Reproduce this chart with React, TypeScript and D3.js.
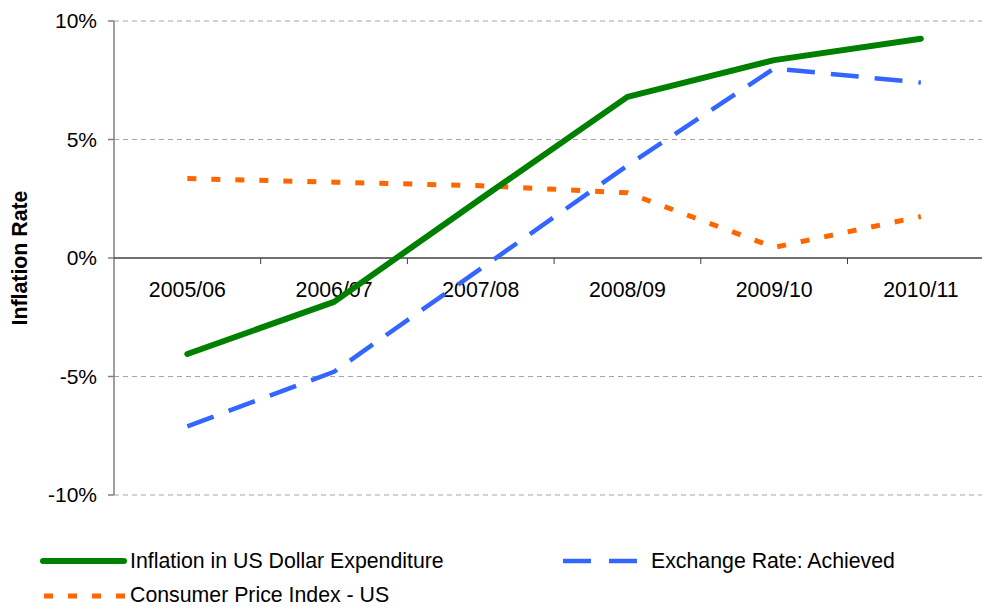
import React from "react";
import * as d3 from "d3";

const categories = ["2005/06", "2006/07", "2007/08", "2008/09", "2009/10", "2010/11"];
const inflationUSD = [-4.05, -1.85, 2.5, 6.8, 8.35, 9.25];
const exchangeRate = [-7.1, -4.8, -0.45, 3.9, 8.0, 7.4];
const cpiUS = [3.35, 3.2, 3.05, 2.75, 0.45, 1.75];
const yTicks = [-10, -5, 0, 5, 10];

const series = [
  { name: "Inflation in US Dollar Expenditure", values: inflationUSD, color: "#008000", width: 6, dash: null, cap: "round" },
  { name: "Exchange Rate: Achieved", values: exchangeRate, color: "#3366ff", width: 4.5, dash: "28 16", cap: "butt" },
  { name: "Consumer Price Index - US", values: cpiUS, color: "#ff6600", width: 5, dash: "9 15", cap: "butt" },
];

const App = () => {
  const width = 982,
    height = 608;
  const left = 114,
    top = 21,
    bottom = 495;
  const step = 146.7;

  const x = d3
    .scaleBand<string>()
    .domain(categories)
    .range([left, left + step * categories.length])
    .paddingInner(0)
    .paddingOuter(0);
  const y = d3.scaleLinear().domain([-10, 10]).range([bottom, top]);
  const cx = (c: string) => (x(c) as number) + x.bandwidth() / 2;

  const line = d3
    .line<number>()
    .x((d, i) => cx(categories[i]))
    .y((d) => y(d));

  const font = "'Liberation Sans', Arial, sans-serif";
  const legendSize = 21.3;

  return (
    <svg
      width={width}
      height={height}
      style={{ position: "absolute", left: 0, top: 0, background: "#fff" }}
      fontFamily={font}
    >
      {/* grid */}
      {yTicks
        .filter((t) => t !== 0)
        .map((t) => (
          <line
            key={"g" + t}
            x1={left}
            x2={width}
            y1={y(t)}
            y2={y(t)}
            stroke="#a6a6a6"
            strokeWidth={1}
            strokeDasharray="5 4"
          />
        ))}

      {/* y axis */}
      <line x1={left} x2={left} y1={top} y2={bottom} stroke="#808080" strokeWidth={1.5} />
      {yTicks.map((t) => (
        <g key={"t" + t}>
          <line x1={left - 6} x2={left} y1={y(t)} y2={y(t)} stroke="#808080" strokeWidth={1.5} />
          <text x={97} y={y(t)} dy="0.35em" textAnchor="end" fontSize={21} fill="#000">
            {t + "%"}
          </text>
        </g>
      ))}

      {/* x axis at zero */}
      <line x1={left} x2={width} y1={y(0)} y2={y(0)} stroke="#404040" strokeWidth={1.5} />
      {categories.map((c, i) =>
        i === 0 ? null : (
          <line
            key={"xt" + c}
            x1={x(c) as number}
            x2={x(c) as number}
            y1={y(0)}
            y2={y(0) + 6}
            stroke="#404040"
            strokeWidth={1}
          />
        )
      )}
      {categories.map((c) => (
        <text key={"xl" + c} x={cx(c)} y={297} textAnchor="middle" fontSize={21.3} fill="#000">
          {c}
        </text>
      ))}

      <text
        transform={`translate(27, ${y(0)}) rotate(-90)`}
        textAnchor="middle"
        fontSize={21.3}
        fontWeight="bold"
        fill="#000"
      >
        Inflation Rate
      </text>

      {/* lines: CPI, exchange, inflation order */}
      {[series[2], series[1], series[0]].map((s) => (
        <path
          key={s.name}
          d={line(s.values) as string}
          fill="none"
          stroke={s.color}
          strokeWidth={s.width}
          strokeDasharray={s.dash ?? undefined}
          strokeLinecap={s.cap as any}
          strokeLinejoin="round"
        />
      ))}

      {/* legend */}
      <g>
        <line x1={43} x2={124} y1={561} y2={561} stroke={series[0].color} strokeWidth={6} strokeLinecap="round" />
        <text x={130} y={561} dy="0.35em" fontSize={legendSize} fill="#000">
          {series[0].name}
        </text>
        <line x1={563} x2={637} y1={561} y2={561} stroke={series[1].color} strokeWidth={4.5} strokeDasharray="28 18" />
        <text x={651} y={561} dy="0.35em" fontSize={legendSize} fill="#000">
          {series[1].name}
        </text>
        <line x1={44} x2={126} y1={596} y2={596} stroke={series[2].color} strokeWidth={5} strokeDasharray="9 15" />
        <text x={130} y={595} dy="0.32em" fontSize={legendSize} fill="#000">
          {series[2].name}
        </text>
      </g>
    </svg>
  );
};

export default App;
